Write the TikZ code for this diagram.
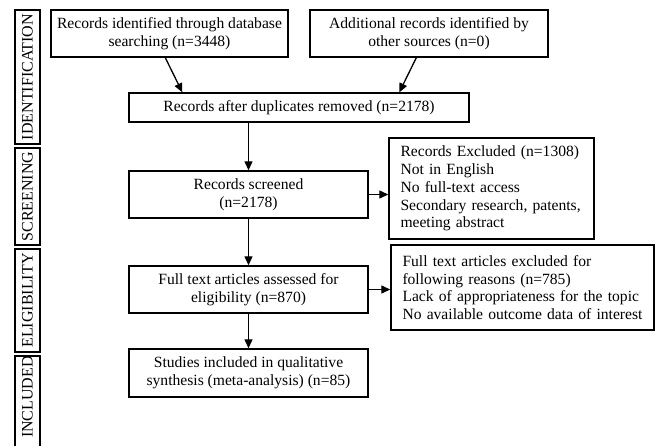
\documentclass[tikz,border=0pt]{standalone}
\usepackage{fontspec}
\setmainfont{Liberation Serif}
\usetikzlibrary{arrows.meta,calc}
\begin{document}
\begin{tikzpicture}[x=1pt,y=-1pt,
  box/.style={draw,line width=1.4pt,inner sep=0pt,align=center,font=\fontsize{15.6}{18}\selectfont},
  lbox/.style={draw,line width=1.4pt,inner sep=0pt,align=left,font=\fontsize{15.6}{17.8}\selectfont},
  side/.style={draw,line width=1.6pt,inner sep=0pt,minimum width=25pt},
  sidetext/.style={rotate=90,inner sep=0pt,font=\fontsize{16}{18}\selectfont},
  arr/.style={line width=1.3pt,-{Triangle[length=9pt,width=8pt]}}]
\useasboundingbox (0,0) rectangle (656,445);
% side labels
\node[side,minimum height=134pt] (sid) at (27.5,77) {};
\node[sidetext] (tid) at (sid.center) {IDENTIFICATION};
\node[side,minimum height=97pt] (ssc) at (27.5,196.5) {};
\node[sidetext] (tsc) at (ssc.center) {SCREENING};
\node[side,minimum height=103pt] (sel) at (27.5,300.5) {};
\node[sidetext] (tel) at (sel.center) {ELIGIBILITY};
\node[side,minimum height=100pt] (sin) at (27.5,406) {};
\node[sidetext] (tin) at (27.5,397) {INCLUDED};
% main boxes
\node[box,minimum width=237pt,minimum height=47pt] (b1) at (169.5,33.5) {Records identified through database\\searching (n=3448)};
\node[box,minimum width=238pt,minimum height=47pt] (b2) at (429,33.5) {Additional records identified by\\other sources (n=0)};
\node[box,minimum width=340pt,minimum height=29pt] (b3) at (299,107.5) {Records after duplicates removed (n=2178)};
\node[box,minimum width=239pt,minimum height=47pt] (b4) at (248.5,194.5) {Records screened\\(n=2178)};
\node[lbox,minimum width=205pt,minimum height=101pt,text width=182pt] (b5) at (491.5,188.5) {Records Excluded (n=1308)\\Not in English\\No full-text access\\Secondary research, patents,\\meeting abstract};
\node[box,minimum width=239pt,minimum height=47pt] (b6) at (248.5,289.5) {Full text articles assessed for\\eligibility (n=870)};
\node[lbox,minimum width=263pt,minimum height=85pt,text width=240pt] (b7) at (522.5,287.5) {Full text articles excluded for\\following reasons (n=785)\\Lack of appropriateness for the topic\\No available outcome data of interest};
\node[box,minimum width=239pt,minimum height=48pt] (b8) at (248.5,373) {Studies included in qualitative\\synthesis (meta-analysis) (n=85)};
% connectors
\draw[arr] ($(b1.south west)+(115,0)$) -- ($(b3.north west)+(54,0)$);
\draw[arr] ($(b2.south west)+(107,0)$) -- ($(b3.north west)+(271,0)$);
\draw[arr] (b4.north |- b3.south) -- (b4.north);
\draw[arr] (b4.east) -- (b4.east -| b5.west);
\draw[arr] (b4.south) -- (b6.north);
\draw[arr] (b6.east) -- (b6.east -| b7.west);
\draw[arr] (b6.south) -- (b8.north);
\end{tikzpicture}
\end{document}
